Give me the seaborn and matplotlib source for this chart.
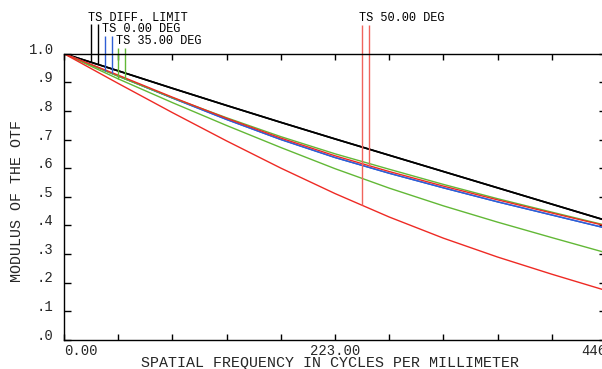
import numpy as np
import pandas as pd
import matplotlib
matplotlib.use("Agg")
import matplotlib.pyplot as plt
import seaborn as sns

# ---------------- data ----------------
freq = [0.0, 44.6, 89.2, 133.8, 178.4, 223.0, 267.6, 312.2, 356.8, 401.4, 446.0]

diff_t = [1.000, 0.940, 0.879, 0.819, 0.760, 0.702, 0.645, 0.588, 0.531, 0.474, 0.417]
diff_s = [1.000, 0.940, 0.879, 0.819, 0.760, 0.702, 0.645, 0.588, 0.531, 0.474, 0.417]
deg0_t = [1.000, 0.922, 0.845, 0.770, 0.700, 0.637, 0.582, 0.531, 0.482, 0.436, 0.390]
deg0_s = [1.000, 0.922, 0.845, 0.770, 0.700, 0.637, 0.582, 0.531, 0.482, 0.436, 0.390]
deg35_t = [1.000, 0.912, 0.829, 0.749, 0.672, 0.598, 0.530, 0.468, 0.411, 0.357, 0.304]
deg35_s = [1.000, 0.921, 0.846, 0.776, 0.710, 0.650, 0.596, 0.543, 0.493, 0.446, 0.400]
deg50_t = [1.000, 0.896, 0.794, 0.695, 0.600, 0.511, 0.429, 0.355, 0.289, 0.229, 0.172]
deg50_s = [1.000, 0.925, 0.848, 0.774, 0.705, 0.643, 0.588, 0.537, 0.489, 0.443, 0.398]

legend_labels = ["TS DIFF. LIMIT", "TS 0.00 DEG", "TS 35.00 DEG", "TS 50.00 DEG"]
x_tick_values = [0.0, 223.0, 446.0]
x_tick_labels = ["0.00", "223.00", "446.00"]
y_tick_values = [0.0, 0.1, 0.2, 0.3, 0.4, 0.5, 0.6, 0.7, 0.8, 0.9, 1.0]
y_tick_labels = [".0", ".1", ".2", ".3", ".4", ".5", ".6", ".7", ".8", ".9", "1.0"]
x_label = "SPATIAL FREQUENCY IN CYCLES PER MILLIMETER"
y_label = "MODULUS OF THE OTF"

# ---------------- styling ----------------
BLACK = "#000000"
BLUE = "#2f5fd6"
GREEN = "#62b836"
RED = "#ee2a24"
RED_MARK = "#f0645c"

series = [
    ("diff_t", diff_t, BLACK),
    ("diff_s", diff_s, BLACK),
    ("deg0_t", deg0_t, BLUE),
    ("deg0_s", deg0_s, BLUE),
    ("deg35_t", deg35_t, GREEN),
    ("deg35_s", deg35_s, GREEN),
    ("deg50_t", deg50_t, RED),
    ("deg50_s", deg50_s, RED),
]

sns.set_style("white")
plt.rcParams["font.family"] = ["Liberation Mono", "DejaVu Sans Mono", "DejaVu Sans"]

W, H = 602, 369
fig = plt.figure(figsize=(W / 100, H / 100), dpi=100)
ax = fig.add_axes([64 / W, (H - 339.7) / H, 542 / W, 286 / H])

rows = []
for name, vals, _ in series:
    for f, v in zip(freq, vals):
        rows.append({"series": name, "freq": f, "mtf": v})
df = pd.DataFrame(rows)
palette = {name: col for name, _, col in series}
sns.lineplot(data=df, x="freq", y="mtf", hue="series", palette=palette,
             hue_order=[s[0] for s in series], estimator=None, sort=False,
             legend=False, linewidth=1.0, ax=ax)
for ln in ax.get_lines()[:2]:
    ln.set_linewidth(1.2)

ax.set_xlim(0, 446)
ax.set_ylim(0, 1)

# marker (legend) lines
marker_specs = [
    (22.2, diff_t, 1.104, BLACK), (28.0, diff_s, 1.104, BLACK),
    (33.7, deg0_t, 1.062, BLUE), (39.5, deg0_s, 1.062, BLUE),
    (44.4, deg35_t, 1.020, GREEN), (50.2, deg35_s, 1.020, GREEN),
    (245.2, deg50_t, 1.100, RED_MARK), (251.0, deg50_s, 1.100, RED_MARK),
]
for fx, curve, top, col in marker_specs:
    bot = np.interp(fx, freq, curve)
    ax.plot([fx, fx], [bot, top], color=col, lw=1.0, clip_on=False,
            solid_capstyle="butt")

label_pos = [(19.8, 1.115), (31.0, 1.076), (42.8, 1.034), (242.8, 1.114)]
for (lx, ly), txt in zip(label_pos, legend_labels):
    ax.text(lx, ly, txt, fontsize=8.6, ha="left", va="baseline", color="black",
            clip_on=False)

# ticks
ax.set_xticks(x_tick_values)
ax.set_xticklabels(x_tick_labels)
ax.set_xticks(np.arange(1, 10) * 44.6, minor=True)
ax.set_yticks(y_tick_values)
ax.set_yticklabels(y_tick_labels)
ax.tick_params(axis="both", which="both", direction="in", width=1.0,
               color="black", top=True, right=True, bottom=True, left=True)
ax.tick_params(axis="x", which="both", length=4.0)
ax.tick_params(axis="y", which="both", length=5.0)
ax.tick_params(axis="x", which="major", labelsize=10, pad=2.8)
ax.tick_params(axis="y", which="major", labelsize=10, pad=7.5)
for lab in ax.get_yticklabels():
    lab.set_verticalalignment("baseline")
ax.get_xticklabels()[0].set_horizontalalignment("left")

for side in ["left", "bottom", "top", "right"]:
    ax.spines[side].set_color("black")
    ax.spines[side].set_linewidth(1.0)
    ax.spines[side].set_visible(True)

ax.set_xlabel(x_label, fontsize=10.8)
ax.xaxis.set_label_coords((330 - 64) / 542, (339.7 - 367.2) / 286)
ax.xaxis.label.set_verticalalignment("baseline")
ax.set_ylabel(y_label, fontsize=10.8)
ax.yaxis.set_label_coords((17 - 64) / 542, (339.7 - 201) / 286)
ax.yaxis.label.set_verticalalignment("center")

fig.savefig("out.png", dpi=100)
